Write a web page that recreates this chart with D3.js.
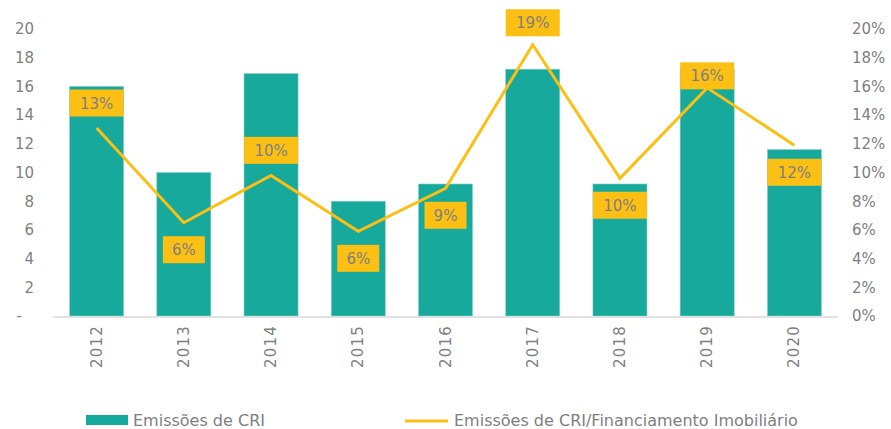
<!DOCTYPE html>
<html><head><meta charset="utf-8">
<script src="https://cdn.jsdelivr.net/npm/d3@7"></script>
<style>body{margin:0;background:#fff}svg{display:block}text{font-family:"DejaVu Sans",Verdana,sans-serif}</style>
</head><body>
<script>
const years = ["2012","2013","2014","2015","2016","2017","2018","2019","2020"];
const emissoes = [16.0, 10.0, 16.9, 8.0, 9.2, 17.2, 9.2, 17.2, 11.6];
const ratio = [0.131, 0.065, 0.098, 0.059, 0.089, 0.189, 0.096, 0.159, 0.119];
const ratioLabels = ["13%","6%","10%","6%","9%","19%","10%","16%","12%"];
const leftTicks = [0,2,4,6,8,10,12,14,16,18,20];
const rightTicks = [0,0.02,0.04,0.06,0.08,0.10,0.12,0.14,0.16,0.18,0.20];
const legendLabels = ["Emissões de CRI","Emissões de CRI/Financiamento Imobiliário"];

const W=891,H=429, L=53, R=838, T=29, B=316;
const teal="#16a99c", gold="#fcbf14", grey="#7f7f7f";
const svg=d3.select("body").append("svg").attr("width",W).attr("height",H);
const x=d3.scaleBand().domain(years).range([L,R]).paddingInner(0.38).paddingOuter(0.19);
const y=d3.scaleLinear().domain([0,20]).range([B,T]);
const y2=d3.scaleLinear().domain([0,0.2]).range([B,T]);

// bars
svg.selectAll("rect.bar").data(years).join("rect").attr("class","bar")
  .attr("x",d=>x(d)).attr("width",x.bandwidth())
  .attr("y",(d,i)=>y(emissoes[i])).attr("height",(d,i)=>B-y(emissoes[i]))
  .attr("fill",teal).attr("stroke","#8fd3cc").attr("stroke-width",0.6);

// axis line
svg.append("line").attr("x1",L).attr("x2",R).attr("y1",B+1).attr("y2",B+1).attr("stroke","#d9d9d9").attr("stroke-width",1.5);

// left axis
const ga=svg.append("g").attr("transform",`translate(34,0)`)
  .call(d3.axisLeft(y).tickValues(leftTicks).tickSize(0).tickPadding(0).tickFormat(d=>d===0?"-":d));
ga.select(".domain").remove();
ga.selectAll("text").attr("fill",grey).attr("font-size",15).attr("x",d=>d===0?-12:0);
// right axis
const gr=svg.append("g").attr("transform",`translate(852,0)`)
  .call(d3.axisRight(y2).tickValues(rightTicks).tickSize(0).tickPadding(0).tickFormat(d3.format(".0%")));
gr.select(".domain").remove();
gr.selectAll("text").attr("fill",grey).attr("font-size",15);

// x labels
svg.selectAll("text.xl").data(years).join("text").attr("class","xl")
  .attr("transform",d=>`translate(${x(d)+x.bandwidth()/2+5},${B+9}) rotate(-90)`)
  .attr("text-anchor","end").attr("fill",grey).attr("font-size",15).attr("letter-spacing",1.2).text(d=>d);

// line
const cx=d=>x(d)+x.bandwidth()/2;
svg.append("path").datum(years)
  .attr("d",d3.line().x(cx).y((d,i)=>y2(ratio[i])))
  .attr("fill","none").attr("stroke",gold).attr("stroke-width",3);

// labels
const above=[true,false,true,false,false,true,false,true,false];
const g=svg.selectAll("g.lab").data(years).join("g").attr("class","lab");
g.each(function(d,i){
  const s=d3.select(this);
  const w=ratioLabels[i].length===3?54:42;
  let cy=y2(ratio[i]) + (above[i]?-25:27);
  if(i===7) cy=y2(ratio[i])-12;
  if(i===5) cy=y2(ratio[i])-22;
  s.append("rect").attr("x",cx(d)-w/2).attr("y",cy-13.5).attr("width",w).attr("height",27).attr("fill",gold);
  s.append("text").attr("x",cx(d)).attr("y",cy+5.5).attr("text-anchor","middle").attr("fill",grey).attr("font-size",15).text(ratioLabels[i]);
});

// legend
svg.append("rect").attr("x",86).attr("y",415).attr("width",42).attr("height",10).attr("fill",teal);
svg.append("text").attr("x",133).attr("y",426).attr("fill",grey).attr("font-size",16).text(legendLabels[0]);
svg.append("line").attr("x1",405).attr("x2",448).attr("y1",421).attr("y2",421).attr("stroke",gold).attr("stroke-width",3);
svg.append("text").attr("x",454).attr("y",426).attr("fill",grey).attr("font-size",16).text(legendLabels[1]);
</script>
</body></html>
